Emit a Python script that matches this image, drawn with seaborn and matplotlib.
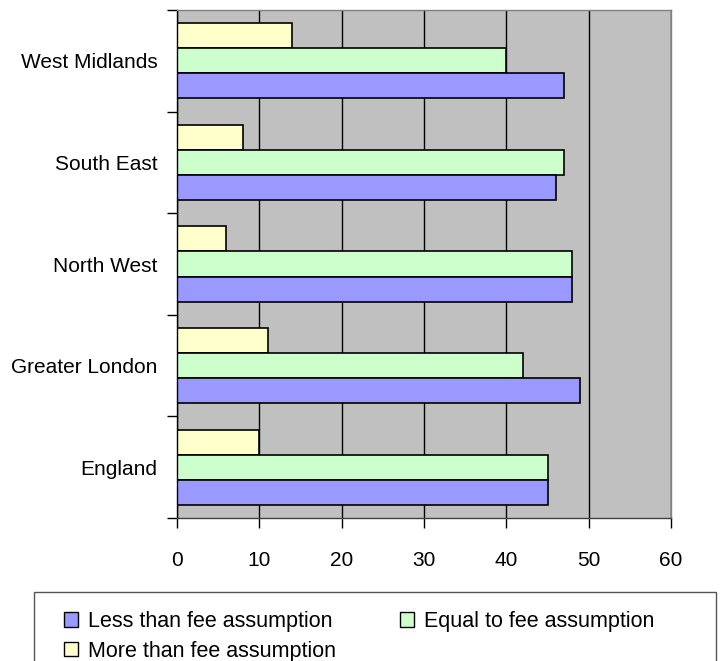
import matplotlib
matplotlib.use('Agg')
import matplotlib.pyplot as plt
from matplotlib.patches import Patch, Rectangle
import seaborn as sns
import pandas as pd

# regions listed top to bottom as in the chart
regions = ['West Midlands', 'South East', 'North West', 'Greater London', 'England']
less_than = [47, 46, 48, 49, 45]
equal_to = [40, 47, 48, 42, 45]
more_than = [14, 8, 6, 11, 10]

series = ['Less than fee assumption', 'Equal to fee assumption', 'More than fee assumption']
colors = {'Less than fee assumption': '#9999FF',
          'Equal to fee assumption': '#CCFFCC',
          'More than fee assumption': '#FFFFCC'}

rows = []
for name, vals in zip(series, [less_than, equal_to, more_than]):
    for r, v in zip(regions, vals):
        rows.append({'region': r, 'series': name, 'value': v})
df = pd.DataFrame(rows)

sns.set_style('white')
plt.rcParams['font.family'] = ['Liberation Sans', 'DejaVu Sans']
plt.rcParams.update({'text.color': 'black', 'xtick.color': 'black',
                     'ytick.color': 'black', 'axes.labelcolor': 'black'})

fig = plt.figure(figsize=(7.26, 6.61), dpi=100)
ax = fig.add_axes([177 / 726, 1 - 518 / 661, (671 - 177) / 726, (518 - 10) / 661])
ax.set_facecolor('#C0C0C0')
ax.set_axisbelow(True)

sns.barplot(data=df, y='region', x='value', hue='series', order=regions,
            hue_order=series[::-1], palette=colors, orient='h', width=0.74,
            saturation=1, edgecolor='black', linewidth=1.2, legend=False, ax=ax)

ax.set_xlim(0, 60)
ax.set_ylim(len(regions) - 0.5, -0.5)
ax.set_xticks(range(0, 61, 10))
ax.xaxis.grid(True, color='black', linewidth=1)
ax.yaxis.grid(False)
ax.set_xlabel('')
ax.set_ylabel('')

ax.set_yticks(range(len(regions)))
ax.set_yticklabels(regions)
ax.set_yticks([i - 0.5 for i in range(len(regions) + 1)], minor=True)
ax.tick_params(axis='y', which='major', length=0, pad=14, labelsize=15, labelcolor='black')
ax.tick_params(axis='y', which='minor', length=7, width=1, direction='out', color='black', left=True)
ax.tick_params(axis='x', length=7, width=1, direction='out', color='black', bottom=True,
               pad=17, labelsize=15, labelcolor='black')

for side in ['top', 'right']:
    ax.spines[side].set_color('#808080')
ax.spines['bottom'].set_color('#404040')
ax.spines['left'].set_color('black')
for s in ax.spines.values():
    s.set_linewidth(1)

# legend box
fig.patches.append(Rectangle((34 / 726, -0.05), (716 - 34) / 726, 0.05 + 1 - 592 / 661,
                             transform=fig.transFigure, facecolor='white',
                             edgecolor='#555555', linewidth=1))
handles = [Patch(facecolor=colors[s], edgecolor='black', linewidth=1, label=s) for s in series]
fig.legend(handles=[handles[0], handles[2], handles[1]], ncol=2, frameon=False,
           loc='upper left', bbox_to_anchor=(49 / 726, 1 - 596 / 661),
           fontsize=15.5, handlelength=0.65, handleheight=0.65, handletextpad=0.45,
           columnspacing=3.0, labelspacing=0.4, borderpad=0.2, labelcolor='black')

fig.savefig('out.png', dpi=100)
